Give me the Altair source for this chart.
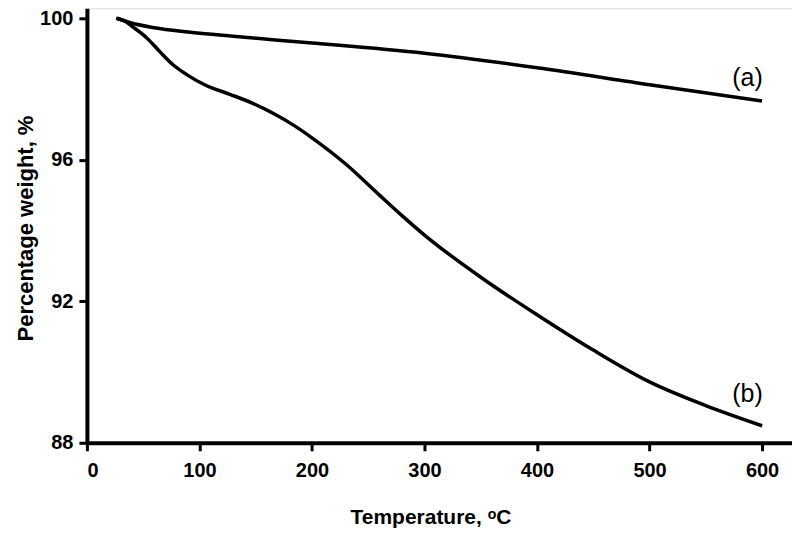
import altair as alt
import pandas as pd

# Curve (a)
temp_a = [27, 38, 60, 90, 130, 170, 200, 300, 400, 500, 600]
weight_a = [100.0, 99.88, 99.73, 99.61, 99.49, 99.38, 99.30, 99.01, 98.60, 98.12, 97.66]

# Curve (b)
temp_b = [26, 33, 41, 53, 65, 76, 89, 106, 127, 147, 165, 185, 200, 230, 260, 280, 300, 350, 400, 450, 500, 550, 600]
weight_b = [100.0, 99.93, 99.75, 99.45, 99.05, 98.70, 98.40, 98.10, 97.85, 97.60, 97.32, 96.95, 96.62, 95.88, 95.00, 94.42, 93.87, 92.68, 91.62, 90.62, 89.72, 89.05, 88.48]

label_text = ["(a)", "(b)"]
label_x = [587, 587]
label_y = [98.31, 89.38]

x_ticks = [0, 100, 200, 300, 400, 500, 600]
y_ticks = [88, 92, 96, 100]

df = pd.concat([
    pd.DataFrame({"T": temp_a, "W": weight_a, "s": "a"}),
    pd.DataFrame({"T": temp_b, "W": weight_b, "s": "b"}),
])
labels = pd.DataFrame({"text": label_text, "T": label_x, "W": label_y})

FONT = "Liberation Sans, Arial, DejaVu Sans"

xs = alt.Scale(domain=[0, 626.6], nice=False, zero=False)
ys = alt.Scale(domain=[88, 100.28], nice=False, zero=False)

x_axis = alt.Axis(
    values=x_ticks, title="Temperature, ᵒC", grid=False,
    domainColor="black", domainWidth=4, tickColor="black", tickWidth=3, tickSize=8,
    labelFont=FONT, labelFontSize=20, labelFontWeight="bold", labelColor="black", labelPadding=10,
    titleFont=FONT, titleFontSize=21, titleFontWeight="bold", titleColor="black",
    titleX=344, titleY=81, titleBaseline="alphabetic", titleAnchor="start", titleAlign="center",
)
y_axis = alt.Axis(
    values=y_ticks, title="Percentage weight, %", grid=False,
    domainColor="black", domainWidth=4, tickColor="black", tickWidth=3, tickSize=8,
    labelFont=FONT, labelFontSize=20, labelFontWeight="bold", labelColor="black", labelPadding=6,
    titleFont=FONT, titleFontSize=22, titleFontWeight="bold", titleColor="black",
    titleX=-54, titleY=220, titleBaseline="alphabetic", titleAngle=-90, titleAlign="center",
)

lines = alt.Chart(df).mark_line(color="black", strokeWidth=3.5, interpolate="monotone").encode(
    x=alt.X("T:Q", scale=xs, axis=x_axis),
    y=alt.Y("W:Q", scale=ys, axis=y_axis),
    detail="s:N",
)

text = alt.Chart(labels).mark_text(font=FONT, fontSize=25, color="black", baseline="middle", align="center").encode(
    x=alt.X("T:Q", scale=xs),
    y=alt.Y("W:Q", scale=ys),
    text="text:N",
)

chart = (lines + text).properties(
    width=706, height=435,
    padding={"left": 79, "top": 0, "right": 0, "bottom": 85},
    autosize="none",
).configure_view(stroke=None).configure(background="white")

chart.save("out.html", embed_options={"renderer": "svg", "actions": False})
